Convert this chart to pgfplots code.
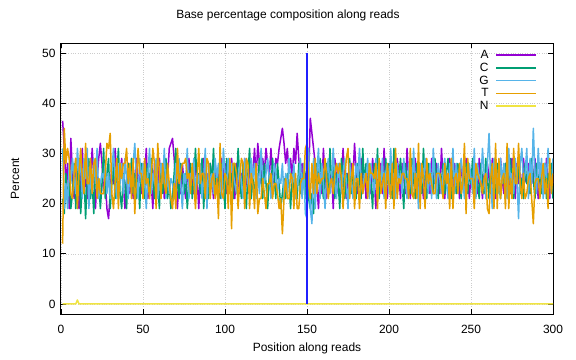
\documentclass[border=0pt]{standalone}
\usepackage{fontspec}
\setmainfont{Liberation Sans}
\usepackage{pgfplots}
\usepackage{pgfplotstable}
\pgfplotsset{compat=1.18}
\definecolor{cA}{HTML}{9400D3}
\definecolor{cC}{HTML}{009E73}
\definecolor{cG}{HTML}{56B4E9}
\definecolor{cT}{HTML}{E69F00}
\definecolor{cN}{HTML}{F0E442}
\definecolor{cV}{HTML}{2020FF}
\pgfplotstableread{
x A C G T
1 36.5 21 31 12
2 31 18 19 35
3 24 26 24 28
4 28 21 19 31
5 19 24 28 29
6 33 19 24 22
7 26 22 29 21
8 21 28 25 26
9 29 19 22 29
10 24 25 31 19
11 19 29 26 26
12 25 18 28 31
13 31 24 21 25
14 22 26 29 22
15 26 17 25 32
16 21 25 31 24
17 28 29 19 24
18 24 21 26 29
19 31 24 22 22
20 26 18 29 28
21 19 28 24 29
22 25 22 31 21
23 29 25 21 25
24 32 19 24 22
25 28 24 26 22
26 22 31 25 22
27 25 21 28 26
28 19 26 22 32
29 17 29 26 31
30 22 19 21 34
31 28 24 26 22
32 24 28 31 19
33 31 21 25 24
34 25 25 21 29
35 21 31 28 19
36 26 22 24 28
37 29 19 28 25
38 24 26 22 28
39 19 24 29 28
40 25 19 25 31
41 28 28 21 24
42 22 24 26 28
43 26 29 24 21
44 21 22 28 29
45 25 26 32 18
46 29 21 25 25
47 24 25 21 31
48 26 19 29 26
49 22 28 24 26
50 28 24 28 21
51 25 21 25 29
52 31 26 19 24
53 21 28 26 25
54 26 22 31 21
55 24 29 22 25
56 19 25 26 31
57 28 21 24 28
58 25 26 29 19
59 22 24 21 32
60 29 19 25 26
61 24 28 28 21
62 26 22 24 28
63 21 25 31 24
64 28 29 21 22
65 25 21 26 28
66 31 24 22 24
67 32 19 25 21
68 33 22 24 19
69 29 26 21 24
70 24 31 28 19
71 19 24 25 31
72 26 21 29 24
73 22 28 24 26
74 28 25 19 28
75 24 22 26 28
76 21 26 24 29
77 25 19 31 25
78 29 24 21 26
79 24 28 26 22
80 26 21 25 28
81 22 25 29 24
82 28 31 22 19
83 25 24 26 25
84 19 26 24 31
85 26 22 28 24
86 24 29 21 26
87 29 19 25 26
88 22 26 31 21
89 26 25 19 29
90 24 21 28 28
91 28 28 24 21
92 25 24 26 25
93 21 31 22 26
94 28 22 29 21
95 24 26 25 25
96 26 25 28 17
97 22 21 24 32
98 29 28 21 22
99 25 24 31 21
100 28 19 26 26
101 22 29 24 25
102 26 25 29 19
103 24 22 25 29
104 29 26 28 15
105 25 21 26 28
106 21 28 24 28
107 28 24 22 26
108 25 31 25 19
109 22 25 28 25
110 26 21 24 29
111 24 28 21 28
112 29 24 29 19
113 25 19 26 29
114 22 26 24 28
115 28 31 22 19
116 24 21 29 26
117 26 25 25 24
118 31 22 28 19
119 25 26 21 28
120 32 24 26 18
121 28 29 22 21
122 24 25 31 21
123 29 21 25 25
124 26 28 24 22
125 31 24 26 19
126 28 19 29 24
127 25 26 25 24
128 31 22 21 26
129 26 29 24 21
130 24 25 28 24
131 29 21 26 24
132 28 28 22 22
133 31 24 25 19
134 33 19 24 21
135 35 22 28 14
136 32 25 21 21
137 28 21 26 25
138 31 26 22 21
139 26 24 29 21
140 29 19 25 26
141 25 26 24 25
142 31 22 28 19
143 28 25 21 26
144 34 21 24 19
145 29 28 25 19
146 25 22 29 24
147 28 26 21 25
148 24 24 28 25
149 26 21 18 31
150 22 31 17 32
151 25 21 31 24
152 37 19 19 21
153 34 22 16 28
154 31 18 29 22
155 28 25 19 29
156 24 28 26 22
157 19 24 31 26
158 26 29 21 24
159 22 25 28 25
160 31 21 24 25
161 25 26 19 29
162 21 28 26 25
163 28 22 29 21
164 24 31 22 24
165 26 24 25 25
166 19 28 31 22
167 29 21 24 26
168 25 26 21 28
169 22 24 28 26
170 28 19 25 28
171 24 29 22 25
172 31 25 26 19
173 25 21 29 25
174 21 26 24 29
175 26 24 19 31
176 22 29 28 21
177 28 22 25 25
178 25 26 21 28
179 32 24 24 19
180 26 21 28 25
181 22 28 25 25
182 25 25 31 19
183 29 21 24 26
184 24 31 22 22
185 26 24 26 24
186 21 28 25 26
187 28 22 29 21
188 25 26 21 28
189 22 24 28 26
190 29 19 25 26
191 25 28 22 25
192 19 24 29 28
193 26 31 25 19
194 24 21 26 29
195 28 26 24 22
196 22 25 29 24
197 31 22 21 26
198 25 29 26 19
199 21 24 28 28
200 26 28 22 24
201 24 25 31 21
202 28 21 24 28
203 25 31 26 19
204 22 26 21 31
205 29 22 28 21
206 26 25 24 25
207 21 29 26 24
208 28 24 22 26
209 25 19 29 26
210 22 28 25 25
211 31 24 21 25
212 25 26 28 21
213 21 22 25 31
214 26 29 22 22
215 24 25 31 21
216 29 21 24 26
217 25 28 26 21
218 22 24 19 32
219 28 26 28 19
220 25 22 25 28
221 21 31 24 25
222 28 25 29 19
223 24 21 26 29
224 26 28 22 24
225 22 24 28 26
226 29 26 21 24
227 25 22 31 22
228 24 29 25 22
229 28 25 21 26
230 25 21 28 26
231 22 26 25 26
232 31 24 22 24
233 25 28 26 21
234 21 22 29 28
235 26 26 24 24
236 24 29 21 26
237 29 24 28 19
238 25 21 25 29
239 22 28 31 19
240 28 25 22 25
241 24 22 28 26
242 26 28 24 22
243 21 25 26 28
244 28 21 29 22
245 25 26 25 24
246 22 24 21 32
247 29 28 26 18
248 25 22 24 29
249 21 26 28 25
250 26 24 25 25
251 24 29 22 25
252 28 22 31 19
253 25 26 21 28
254 22 24 28 26
255 29 21 25 25
256 25 28 24 24
257 21 25 31 22
258 26 22 26 25
259 24 29 21 26
260 28 25 28 19
261 25 21 34 18
262 22 28 25 25
263 29 24 19 28
264 25 26 29 19
265 21 22 24 32
266 26 28 26 19
267 24 25 22 29
268 29 21 29 21
269 25 26 24 25
270 22 24 28 26
271 28 28 25 19
272 24 22 21 32
273 26 25 31 19
274 22 29 24 25
275 29 24 26 21
276 25 21 22 31
277 21 26 29 24
278 28 24 25 24
279 24 28 17 32
280 26 22 28 24
281 22 25 31 21
282 29 21 24 26
283 25 28 26 21
284 24 24 31 22
285 28 26 21 25
286 22 22 29 26
287 26 29 24 21
288 24 25 35 16
289 29 21 26 24
290 25 28 22 25
291 21 24 31 25
292 28 26 25 21
293 24 22 29 25
294 26 25 21 28
295 22 28 28 22
296 29 21 25 25
297 25 26 31 19
298 21 24 26 29
299 28 28 22 22
300 24 21 29 26
}\data

\begin{document}
\begin{tikzpicture}
\begin{axis}[
  scale only axis,
  width=492bp, height=271bp,
  xmin=0, xmax=300, ymin=-2, ymax=52,
  xtick={0,50,...,300}, ytick={0,10,...,50},
  tick align=inside,
  major tick length=5bp,
  axis line style={line width=1bp},
  every tick/.style={black, line width=0.8bp},
  grid=major,
  major grid style={dotted, black!20, line width=0.5bp},
  /pgf/number format/assume math mode=true,
  tick label style={font=\fontsize{12}{14}\selectfont},
  xticklabel style={yshift=-8bp},
  yticklabel style={xshift=-2bp},
  every axis title shift=0pt,
  title={Base percentage composition along reads},
  title style={at={(axis description cs:0.4614,1.0886)}, anchor=base, font=\fontsize{12}{14}\selectfont},
  xlabel={Position along reads},
  xlabel style={at={(axis description cs:0.5,-0.14)}, anchor=base, font=\fontsize{12}{14}\selectfont},
  ylabel={Percent},
  ylabel style={at={(axis description cs:-0.0935,0.5)}, anchor=center, font=\fontsize{12}{14}\selectfont},
  legend style={at={(axis description cs:0.97,0.985)}, anchor=north east, draw=none, fill=none,
    font=\fontsize{12}{14}\selectfont, row sep=-1bp, column sep=5bp, inner sep=1bp},
  legend cell align=right,
  legend plot pos=right,
  legend image code/.code={\draw[#1] (0bp,0bp) -- (40bp,0bp);},
  every axis plot/.append style={line width=1.5bp, line join=round},
]
\addplot[cA, no marks] table[x=x, y=A] {\data};
\addlegendentry{A}
\addplot[cC, no marks] table[x=x, y=C] {\data};
\addlegendentry{C}
\addplot[cG, no marks] table[x=x, y=G] {\data};
\addlegendentry{G}
\addplot[cT, no marks] table[x=x, y=T] {\data};
\addlegendentry{T}
\addplot[cN, no marks] coordinates {(1,0) (9,0) (10,0.8) (11,0) (300,0)};
\addlegendentry{N}
\addplot[cV, no marks, forget plot] coordinates {(150,0) (150,50)};
\end{axis}
\path (current axis.south west) ++(-61bp,-46bp) rectangle ++(576bp,360bp);
\end{tikzpicture}
\end{document}
